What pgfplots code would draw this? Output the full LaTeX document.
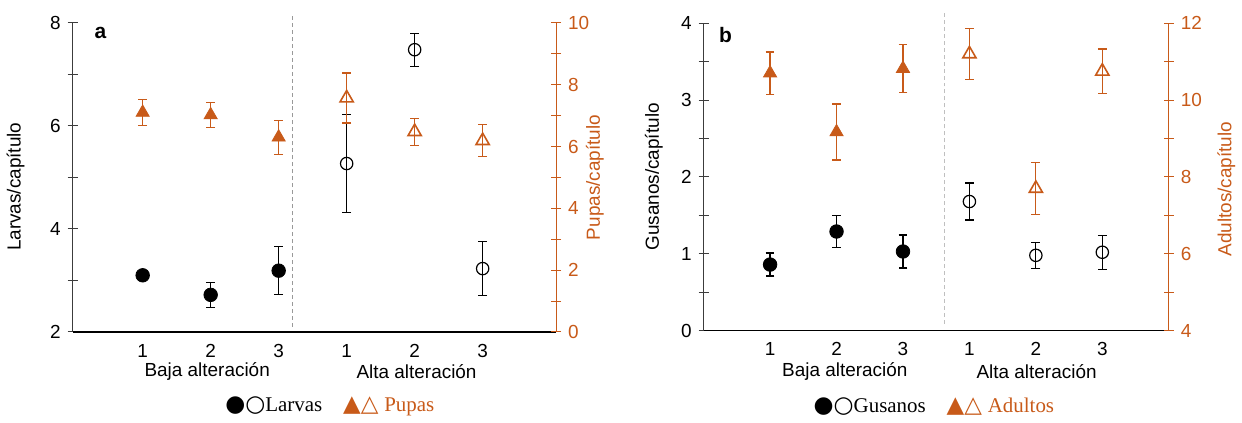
\documentclass[border=0pt]{standalone}
\usepackage{pgfplots}
\pgfplotsset{compat=1.18}
\usepackage{fontspec}
\setmainfont{Liberation Sans}
\newfontfamily\seriffont{Liberation Serif}
\newfontfamily\symfont{DejaVu Sans}
\definecolor{org}{RGB}{200,90,25}
\definecolor{axg}{RGB}{60,60,60}
\pgfplotsset{
  base/.style={scale only axis, clip=false,
    /pgf/number format/assume math mode=true,
    tick label style={font=\fontsize{9.5}{10}\selectfont},
    label style={font=\fontsize{9.5}{10}\selectfont},
    tick align=center, major tick length=5pt, minor tick length=5pt,
    every tick/.style={line width=0.5pt},
    axis line style={-, line width=0.6pt},
    xtick={1,...,6}, xticklabels={1,2,3,1,2,3},
    xtick style={draw=none},
  },
  errs/.style={error bars/.cd, y dir=both, y explicit,
    error bar style={line width=0.6pt},
    error mark options={rotate=90, mark size=2.2pt, line width=0.6pt}},
}
\begin{document}
\begin{tikzpicture}
\path (0pt,0pt) rectangle (621pt,209pt);
% ---------------- Panel a ----------------
\begin{axis}[base, at={(36pt,42.5pt)}, anchor=south west,
  width=242.5pt, height=155pt, xmin=-0.03, xmax=7.08, ymin=2, ymax=8,
  axis x line*=bottom, axis y line*=left,
  ytick={2,4,6,8}, minor ytick={3,5,7},
  y axis line style={axg}, x axis line style={black},
  ytick style={axg},
  ylabel={Larvas/capítulo},
  ylabel style={at={(axis description cs:-0.118,0.47)}, anchor=center},
]
\addplot[only marks, mark=*, mark size=3.4pt, black, errs] coordinates {
 (1,3.10) +- (0,0.04) (2,2.72) +- (0,0.245) (3,3.19) +- (0,0.47)};
\addplot[only marks, mark=o, mark size=3.1pt, black, line width=0.6pt, errs] coordinates {
 (4,5.27) +- (0,0.95) (5,7.48) +- (0,0.32) (6,3.23) +- (0,0.52)};
\draw[black!40, dash pattern=on 2pt off 1.5pt, line width=0.5pt] (axis cs:3.2,2.1) -- (axis cs:3.2,8.19);
\end{axis}
\begin{axis}[base, at={(36pt,42.5pt)}, anchor=south west,
  width=242.5pt, height=155pt, xmin=-0.03, xmax=7.08, ymin=0, ymax=10,
  axis x line=none, axis y line*=right,
  ytick={0,2,...,10}, minor ytick={1,3,...,9},
  y axis line style={org}, ytick style={org},
  yticklabel style={org},
  ylabel={Pupas/capítulo}, ylabel style={org, at={(axis description cs:1.08,0.5)}, anchor=center},
]
\addplot[only marks, mark=triangle*, mark size=3.8pt, org, errs] coordinates {
 (1,7.10) +- (0,0.42) (2,7.02) +- (0,0.41) (3,6.30) +- (0,0.55)};
\addplot[only marks, mark=triangle, mark size=3.8pt, org, line width=0.8pt, errs] coordinates {
 (4,7.57) +- (0,0.81) (5,6.48) +- (0,0.44) (6,6.19) +- (0,0.52)};
\end{axis}
\node[font=\bfseries\fontsize{10.5}{11}\selectfont] at (50pt,192.5pt) {a};
\node[font=\fontsize{9.5}{10}\selectfont] at (103.5pt,22.5pt) {Baja alteración};
\node[font=\fontsize{9.5}{10}\selectfont] at (208.5pt,22.5pt) {Alta alteración};
\node[font=\fontsize{10.5}{11}\selectfont] at (165pt,5pt) {{\symfont\fontsize{11.5}{11}\selectfont ●○}{\seriffont Larvas}\quad\textcolor{org}{{\symfont\fontsize{11.5}{11}\selectfont ▲△} {\seriffont Pupas}}};
% ---------------- Panel b ----------------
\begin{axis}[base, at={(352.5pt,43.15pt)}, anchor=south west,
  width=233.3pt, height=154.2pt, xmin=0, xmax=7, ymin=0, ymax=4,
  axis x line*=bottom, axis y line*=left,
  ytick={0,1,2,3,4}, minor ytick={0.5,1.5,2.5,3.5},
  y axis line style={axg}, x axis line style={black},
  ytick style={axg},
  ylabel={Gusanos/capítulo},
  ylabel style={at={(axis description cs:-0.107,0.5)}, anchor=center},
]
\addplot[only marks, mark=*, mark size=3.4pt, black, errs] coordinates {
 (1,0.86) +- (0,0.15) (2,1.29) +- (0,0.21) (3,1.03) +- (0,0.215)};
\addplot[only marks, mark=o, mark size=3.1pt, black, line width=0.6pt, errs] coordinates {
 (4,1.68) +- (0,0.24) (5,0.98) +- (0,0.17) (6,1.02) +- (0,0.22)};
\draw[black!25, dash pattern=on 2pt off 1.5pt, line width=0.5pt] (axis cs:3.62,0.09) -- (axis cs:3.62,4.13);
\end{axis}
\begin{axis}[base, at={(352.5pt,43.15pt)}, anchor=south west,
  width=233.3pt, height=154.2pt, xmin=0, xmax=7, ymin=4, ymax=12,
  axis x line=none, axis y line*=right,
  ytick={4,6,...,12}, minor ytick={5,7,9,11},
  y axis line style={org}, ytick style={org},
  yticklabel style={org},
  ylabel={Adultos/capítulo}, ylabel style={org, at={(axis description cs:1.124,0.46)}, anchor=center},
]
\addplot[only marks, mark=triangle*, mark size=3.8pt, org, errs] coordinates {
 (1,10.70) +- (0,0.55) (2,9.17) +- (0,0.73) (3,10.82) +- (0,0.62)};
\addplot[only marks, mark=triangle, mark size=3.8pt, org, line width=0.8pt, errs] coordinates {
 (4,11.20) +- (0,0.66) (5,7.70) +- (0,0.67) (6,10.75) +- (0,0.58)};
\end{axis}
\node[font=\bfseries\fontsize{10.5}{11}\selectfont] at (363.5pt,191.5pt) {b};
\node[font=\fontsize{9.5}{10}\selectfont] at (423.3pt,22.5pt) {Baja alteración};
\node[font=\fontsize{9.5}{10}\selectfont] at (519.5pt,22.5pt) {Alta alteración};
\node[font=\fontsize{10.5}{11}\selectfont] at (468pt,5pt) {{\symfont\fontsize{11.5}{11}\selectfont ●○}{\seriffont Gusanos}\quad\textcolor{org}{{\symfont\fontsize{11.5}{11}\selectfont ▲△} {\seriffont Adultos}}};
\end{tikzpicture}
\end{document}
